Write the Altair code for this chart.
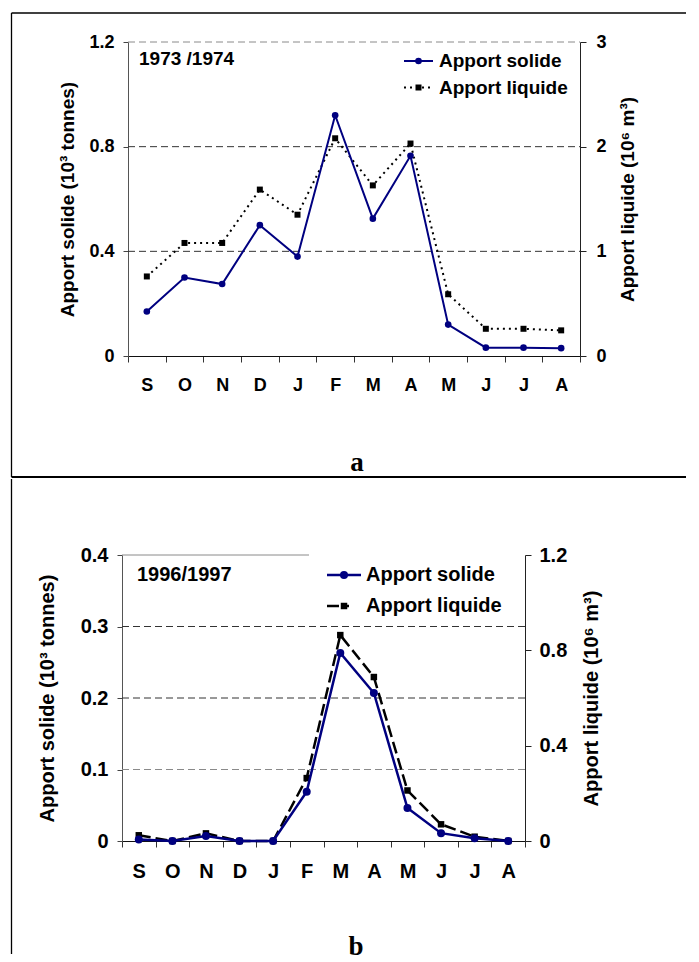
import altair as alt
import pandas as pd

# ---------------- data ----------------
months = ["Sep", "Oct", "Nov", "Dec", "Jan", "Feb", "Mar", "Apr", "May", "Jun", "Jul", "Aug"]

solide_7374 = [0.17, 0.30, 0.275, 0.50, 0.38, 0.92, 0.525, 0.765, 0.12, 0.032, 0.032, 0.03]
liquide_7374 = [0.76, 1.08, 1.08, 1.59, 1.35, 2.08, 1.63, 2.03, 0.59, 0.26, 0.26, 0.245]

solide_9697 = [0.002, 0.0, 0.007, 0.0, 0.0, 0.069, 0.263, 0.207, 0.046, 0.011, 0.004, 0.0]
liquide_9697 = [0.024, 0.0, 0.032, 0.0, 0.0, 0.264, 0.864, 0.688, 0.212, 0.07, 0.018, 0.0]

grid_top = [0.4, 0.8, 1.2]
grid_bottom = [0.1, 0.2, 0.3]

left_ticks_top = [0, 0.4, 0.8, 1.2]
right_ticks_top = [0, 1, 2, 3]
left_ticks_bottom = [0, 0.1, 0.2, 0.3, 0.4]
right_ticks_bottom = [0, 0.4, 0.8, 1.2]

NAVY = "#000080"
SANS = "Liberation Sans"
SERIF = "Liberation Serif"
one = pd.DataFrame({"k": [0]})


def deco_rule(x, x2, y, y2, color="black", sw=1.3):
    return alt.Chart(one).mark_rule(color=color, strokeWidth=sw).encode(
        x=alt.value(x), x2=alt.value(x2), y=alt.value(y), y2=alt.value(y2))


def deco_text(txt, x, y, size, font=SANS, align="left", baseline="middle"):
    return alt.Chart(one).mark_text(
        text=txt, font=font, fontSize=size, fontWeight="bold", color="black",
        align=align, baseline=baseline).encode(x=alt.value(x), y=alt.value(y))


def panel(solide, liquide, grid, ldom, lticks, rdom, rticks, W, H, cfg):
    df = pd.DataFrame({"month": months, "solide": solide, "liquide": liquide})
    gdf = pd.DataFrame({"g": grid})
    x0, x1 = cfg["xr"]

    xenc = alt.X(
        "month:N", sort=months,
        scale=alt.Scale(type="band", paddingInner=0, paddingOuter=0, range=[x0, x1]),
        bandPosition=0.5,
        axis=alt.Axis(title=None, tickBand="extent", labelAngle=0,
                      labelExpr="substring(datum.label, 0, 1)",
                      labelFont=SANS, labelFontSize=cfg["lfs"], labelFontWeight="bold",
                      labelColor="black", labelPadding=cfg["xpad"], tickSize=6,
                      tickColor="#333", domainColor="#111"))

    fmt_left = "datum.value == 0 ? '0' : format(datum.value, '.1f')"

    grid_layer = alt.Chart(gdf).mark_rule(strokeDash=[7, 4], strokeWidth=1).encode(
        x=alt.value(x0), x2=alt.value(x1),
        y=alt.Y("g:Q", scale=alt.Scale(domain=ldom, nice=False), axis=None),
        color=alt.condition(cfg["light_test"], alt.value("#8a8a8a"), alt.value("#333333")))

    liq = alt.Chart(df).mark_line(
        color="black", strokeWidth=cfg["lsw"], strokeDash=cfg["dash"],
        point=alt.OverlayMarkDef(shape="square", filled=True, color="black",
                                 size=cfg["sq"], opacity=1)).encode(
        x=xenc,
        y=alt.Y("liquide:Q", scale=alt.Scale(domain=rdom, nice=False),
                axis=alt.Axis(orient="right", values=rticks, grid=False,
                              labelExpr=cfg["rfmt"], offset=cfg["roff"],
                              title="Apport liquide (10⁶ m³)", titleAngle=270,
                              titleFont=SANS, titleFontSize=cfg["tfs"],
                              titleFontWeight="bold", titleColor="black",
                              titlePadding=cfg["rtpad"],
                              labelFont=SANS, labelFontSize=cfg["lfs"],
                              labelFontWeight="bold", labelColor="black",
                              labelPadding=cfg["rlpad"], tickSize=6,
                              tickColor="#222", domainColor="#222")))

    sol = alt.Chart(df).mark_line(
        color=NAVY, strokeWidth=cfg["ssw"],
        point=alt.OverlayMarkDef(shape="circle", filled=True, color=NAVY,
                                 size=cfg["ci"], opacity=1)).encode(
        x=xenc,
        y=alt.Y("solide:Q", scale=alt.Scale(domain=ldom, nice=False),
                axis=alt.Axis(orient="left", values=lticks, grid=False,
                              labelExpr=fmt_left, offset=cfg["loff"],
                              title="Apport solide (10³ tonnes)",
                              titleFont=SANS, titleFontSize=cfg["tfs"],
                              titleFontWeight="bold", titleColor="black",
                              titlePadding=cfg["ltpad"],
                              labelFont=SANS, labelFontSize=cfg["lfs"],
                              labelFontWeight="bold", labelColor="black",
                              labelPadding=cfg["llpad"], tickSize=5,
                              tickColor="#444", domainColor="#555")))

    lg = cfg["leg"]
    legend = [
        deco_rule(lg["x0"], lg["x1"], lg["y1"], lg["y1"], color=NAVY, sw=cfg["ssw"]),
        alt.Chart(one).mark_point(shape="circle", filled=True, color=NAVY, size=cfg["ci"], opacity=1).encode(
            x=alt.value((lg["x0"] + lg["x1"]) / 2), y=alt.value(lg["y1"])),
        deco_text("Apport solide", lg["tx"], lg["y1"], cfg["legfs"]),
        alt.Chart(one).mark_rule(color="black", strokeWidth=cfg["lsw"], strokeDash=cfg["legdash"]).encode(
            x=alt.value(lg["x0"]), x2=alt.value(lg["x1"]), y=alt.value(lg["y2"])),
        alt.Chart(one).mark_point(shape="square", filled=True, color="black", size=cfg["sq"], opacity=1).encode(
            x=alt.value((lg["x0"] + lg["x1"]) / 2), y=alt.value(lg["y2"])),
        deco_text("Apport liquide", lg["tx"], lg["y2"], cfg["legfs"]),
        deco_text(cfg["year"], cfg["yx"], cfg["yy"], cfg["legfs"]),
        deco_text(cfg["letter"], cfg["lx"], cfg["ly"], cfg["letfs"], font=SERIF,
                  align="center", baseline="alphabetic"),
    ]

    layers = [grid_layer] + cfg["extra"] + [liq, sol] + legend + cfg["frame"]
    return alt.layer(*layers).resolve_scale(y="independent").properties(width=W, height=H)


top = panel(
    solide_7374, liquide_7374, grid_top, [0, 1.2], left_ticks_top, [0, 3], right_ticks_top,
    452, 314,
    dict(xr=(0, 452), loff=0, roff=0,
         lfs=18, tfs=19, xpad=14, llpad=9, ltpad=11, rlpad=10, rtpad=31,
         rfmt="format(datum.value, 'd')",
         light_test="datum.g >= 1.2", lsw=2, ssw=2, dash=[2, 4], legdash=[2, 4],
         sq=36, ci=44, legfs=19,
         leg=dict(x0=276, x1=305, tx=311, y1=19, y2=45.5),
         year="1973 /1974", yx=11, yy=16.5,
         letter="a", lx=229, ly=429, letfs=27,
         extra=[],
         frame=[deco_rule(-116.5, 558, -29, -29),
                deco_rule(-116.5, -116.5, -29, 435),
                deco_rule(-116.5, 558, 435, 435, sw=2)]))

bottom = panel(
    solide_9697, liquide_9697, grid_bottom, [0, 0.4], left_ticks_bottom, [0, 1.2], right_ticks_bottom,
    403, 286,
    dict(xr=(-6, 397), loff=6, roff=-6,
         lfs=20, tfs=20, xpad=14, llpad=9, ltpad=23, rlpad=8, rtpad=35,
         rfmt="datum.value == 0 ? '0' : format(datum.value, '.1f')",
         light_test="datum.g <= 0.1", lsw=2.5, ssw=2.5, dash=[12, 5], legdash=[12, 8, 2, 30],
         sq=42, ci=64, legfs=20,
         leg=dict(x0=199, x1=233, tx=238, y1=20, y2=51),
         year="1996/1997", yx=9, yy=20,
         letter="b", lx=228, ly=400, letfs=27,
         extra=[deco_rule(-6, 181, 0, 0, color="#8a8a8a", sw=1)],
         frame=[deco_rule(-116.5, -116.5, -76, 399)]))

chart = alt.vconcat(top, bottom, spacing=0).properties(
    padding={"left": 2, "top": 4, "right": 0, "bottom": 0}
).configure_view(stroke=None).configure_concat(spacing=0)

chart.save("out.html", embed_options={"renderer": "svg", "actions": False})
